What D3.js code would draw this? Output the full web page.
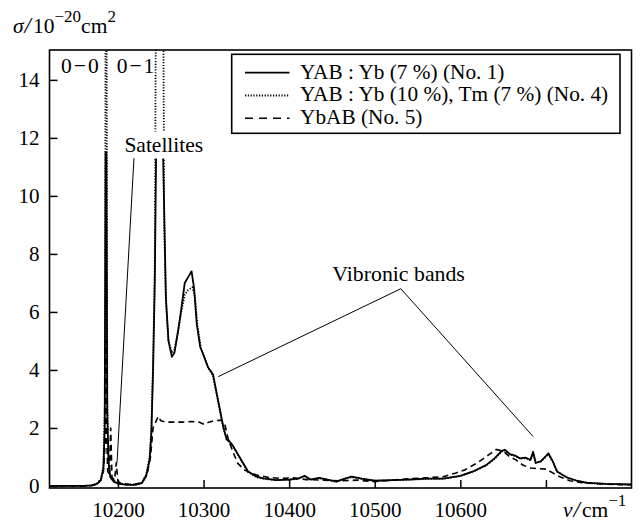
<!DOCTYPE html>
<html><head><meta charset="utf-8">
<script src="https://cdn.jsdelivr.net/npm/d3@7"></script>
<style>body{margin:0;background:#fff}svg{display:block}text{font-family:"Liberation Serif","Times New Roman",serif;fill:#000}</style>
</head><body><svg id="c" width="641" height="523"></svg>
<script>
// ---- data ----
const seriesNames = ["YAB : Yb (7 %) (No. 1)", "YAB : Yb (10 %), Tm (7 %) (No. 4)", "YbAB (No. 5)"];
const xTicks = [10200, 10300, 10400, 10500, 10600, 10700];
const xTickLabels = ["10200", "10300", "10400", "10500", "10600", ""];
const yTicks = [0, 2, 4, 6, 8, 10, 12, 14];

const no1X = [10120,10160,10170,10176,10180,10183,10184.5,10185.5,10186.5,10187.5,10189,10191,10195,10200,10210,10220,10228,10233,10237,10239,10241,10243,10244.8,10252.3,10254,10256,10259,10263,10266,10270,10274,10278,10282,10286,10289,10292,10296,10300,10305,10311,10317,10323,10327,10330,10334,10342,10352,10362,10370,10385,10400,10410,10418,10425,10435,10445,10455,10465,10473,10485,10500,10520,10540,10560,10580,10600,10615,10630,10640,10648,10652,10658,10664,10670,10676,10682,10685,10688,10694,10703,10708,10713,10724,10736,10748,10770,10800];
const no1Y = [0,0,0.02,0.08,0.2,0.6,2.0,11.5,11.5,2.5,0.8,0.3,0.15,0.08,0.04,0.04,0.1,0.35,0.9,1.8,4.0,7.0,12.0,12.0,9.5,6.5,5.0,4.45,4.6,5.3,6.1,7.0,7.2,7.4,6.8,5.6,4.8,4.5,4.1,3.85,2.95,2.05,1.6,1.55,1.4,1.0,0.5,0.32,0.26,0.2,0.22,0.25,0.35,0.22,0.28,0.22,0.15,0.25,0.32,0.25,0.18,0.2,0.22,0.25,0.25,0.35,0.5,0.72,0.95,1.2,1.25,1.1,1.05,0.95,0.98,0.9,1.18,0.8,0.85,1.12,0.85,0.5,0.3,0.18,0.11,0.07,0.05];

const no4X = [10120,10160,10170,10176,10180,10183,10184.8,10185.7,10186.5,10187.5,10189,10191,10195,10200,10210,10220,10228,10233,10237,10239,10241,10243,10244.8,10252.5,10254,10256,10259,10263,10266,10270,10274,10278,10282,10287,10290,10293,10297,10301,10306,10311,10317,10323,10327,10330,10335,10342,10352,10362,10370,10385,10400,10410,10418,10425,10435,10445,10455,10465,10473,10485,10500,10520,10540,10560,10580,10600,10615,10630,10640,10648,10652,10658,10664,10670,10676,10682,10685,10688,10694,10703,10708,10713,10724,10736,10748,10770,10800];
const no4Y = [0,0,0.02,0.1,0.25,0.7,3,20,20,3,0.9,0.35,0.2,0.1,0.05,0.05,0.12,0.4,1.0,2.0,4.2,7.5,20,20,9.0,6.4,5.0,4.6,4.7,5.3,6.0,6.6,6.75,6.85,6.5,5.5,4.75,4.45,4.05,3.8,2.9,2.0,1.6,1.5,1.35,0.98,0.48,0.3,0.25,0.2,0.22,0.24,0.33,0.22,0.27,0.21,0.15,0.24,0.3,0.24,0.18,0.2,0.22,0.24,0.25,0.34,0.5,0.7,0.93,1.18,1.22,1.08,1.03,0.94,0.96,0.88,1.15,0.79,0.84,1.1,0.84,0.5,0.3,0.18,0.11,0.07,0.05];

const no5X = [10120,10165,10175,10180,10183,10185,10186,10187,10188,10190,10191.5,10193,10196,10198,10200,10205,10215,10228,10234,10238,10241,10244,10247,10250,10256,10265,10275,10285,10295,10301,10306,10313,10321,10325,10329,10334,10340,10348,10355,10362,10375,10390,10405,10420,10440,10460,10480,10500,10520,10540,10560,10580,10595,10605,10620,10633,10642,10650,10658,10665,10673,10682,10690,10700,10708,10716,10728,10740,10770,10800];
const no5Y = [0,0,0.05,0.2,0.5,1.5,5.0,1.5,0.5,0.4,2.0,0.3,0.2,0.8,0.15,0.08,0.05,0.1,0.4,1.0,2.0,2.2,2.4,2.25,2.2,2.2,2.2,2.22,2.2,2.12,2.2,2.25,2.27,2.1,1.6,1.2,0.78,0.55,0.45,0.38,0.3,0.26,0.28,0.22,0.2,0.18,0.2,0.15,0.2,0.25,0.28,0.32,0.45,0.55,0.8,1.07,1.26,1.2,1.0,0.9,0.72,0.62,0.6,0.58,0.45,0.32,0.18,0.12,0.06,0.04];

// ---- layout ----
const svg = d3.select("#c");
const L = 49.5, R = 631.5, T = 50, B = 488;
const x = d3.scaleLinear().domain([10120, 10800]).range([L, R]);
const y = d3.scaleLinear().domain([-0.07, 15.03]).range([B, T]);
const FS = 21.5, TFS = 21, SUP = 17;
const FONT = "'Liberation Serif', 'Times New Roman', serif";

svg.append("clipPath").attr("id", "clip").append("rect")
  .attr("x", L).attr("y", T).attr("width", R - L).attr("height", B - T);

const line = d3.line().x(d => x(d[0])).y(d => y(d[1]));
const plot = svg.append("g").attr("clip-path", "url(#clip)");
const styles = [
  {dash: null, w: 1.8},
  {dash: "1.2,1.6", w: 1.8},
  {dash: "6,4", w: 1.6}
];
const data = [d3.zip(no1X, no1Y), d3.zip(no4X, no4Y), d3.zip(no5X, no5Y)];
[2, 0, 1].forEach(i => {
  plot.append("path").datum(data[i]).attr("d", line)
    .attr("fill", "none").attr("stroke", "#000")
    .attr("stroke-width", styles[i].w)
    .attr("stroke-dasharray", styles[i].dash)
    .attr("stroke-linejoin", "round");
});

// axes
const yAxis = d3.axisLeft(y).tickValues(yTicks).tickSize(-8).tickPadding(10);
const gy = svg.append("g").attr("transform", `translate(${L},0)`).call(yAxis);
const xAxis = d3.axisBottom(x).tickValues(xTicks).tickSize(-8).tickPadding(14)
  .tickFormat((d, i) => xTickLabels[i]);
const gx = svg.append("g").attr("transform", `translate(0,${B})`).call(xAxis);
[gx, gy].forEach(g => {
  g.attr("font-family", null).attr("font-size", null);
  g.select(".domain").remove();
  g.selectAll(".tick line").attr("stroke", "#000").attr("stroke-width", 1.5);
  g.selectAll(".tick text").style("font-family", FONT).style("font-size", TFS + "px").attr("fill", "#000");
});

// frame
svg.append("rect").attr("x", L).attr("y", T).attr("width", R - L).attr("height", B - T)
  .attr("fill", "none").attr("stroke", "#000").attr("stroke-width", 1.6);

// annotations: satellites
const satBg = svg.append("rect").attr("fill", "#fff");
const satText = svg.append("text").attr("x", x(10207.5)).attr("y", y(11.53))
  .style("font-size", FS + "px").text("Satellites");
const bb = satText.node().getBBox();
satBg.attr("x", bb.x - 1).attr("y", bb.y - 1).attr("width", bb.width + 2).attr("height", bb.height + 3);
svg.append("line").attr("x1", x(10218.7)).attr("y1", y(11.3)).attr("x2", x(10198.9)).attr("y2", y(0.8))
  .attr("stroke", "#000").attr("stroke-width", 1);

// vibronic bands
svg.append("text").attr("x", x(10450.5)).attr("y", y(7.05)).style("font-size", "21.8px").text("Vibronic bands");
const apex = [10530.5, 6.8];
[[10317.2, 3.77], [10685.2, 1.7]].forEach(e => {
  svg.append("line").attr("x1", x(apex[0])).attr("y1", y(apex[1])).attr("x2", x(e[0])).attr("y2", y(e[1]))
    .attr("stroke", "#000").attr("stroke-width", 1);
});

// 0-0, 0-1 labels
svg.append("text").attr("x", x(10133.5)).attr("y", y(14.5)).attr("dy", "0.35em").style("font-size", FS + "px")
  .style("letter-spacing", "2px").text("0\u22120");
svg.append("text").attr("x", x(10198.5)).attr("y", y(14.5)).attr("dy", "0.35em").style("font-size", FS + "px")
  .style("letter-spacing", "2px").text("0\u22121");

// legend
const lg = svg.append("g");
lg.append("rect").attr("x", 231.7).attr("y", 54.3).attr("width", 388.3).attr("height", 79)
  .attr("fill", "#fff").attr("stroke", "#000").attr("stroke-width", 1.6);
seriesNames.forEach((name, i) => {
  const yy = 72.7 + i * 22.8;
  lg.append("line").attr("x1", 245).attr("x2", 289.5).attr("y1", yy).attr("y2", yy)
    .attr("stroke", "#000").attr("stroke-width", styles[i].w)
    .attr("stroke-dasharray", i === 2 ? "8,6" : styles[i].dash);
  lg.append("text").attr("x", 300).attr("y", yy + 5.8).style("font-size", "21.3px").text(name);
});

// axis titles
const yt = svg.append("text").attr("x", 13).attr("y", 33.3).style("font-size", FS + "px");
yt.append("tspan").style("font-style", "italic").text("σ");
yt.append("tspan").attr("dx", 1).style("font-style", "italic").style("font-size", "23px").text("/");
yt.append("tspan").attr("dx", 2).text("10");
yt.append("tspan").attr("dy", -11).style("font-size", SUP + "px").text("\u221220");
yt.append("tspan").attr("dy", 11).text("cm");
yt.append("tspan").attr("dy", -11).style("font-size", SUP + "px").text("2");

const xt = svg.append("text").attr("x", 563).attr("y", 516.7).style("font-size", FS + "px");
xt.append("tspan").style("font-style", "italic").text("ν");
xt.append("tspan").attr("dx", 1).style("font-style", "italic").style("font-size", "23px").text("/");
xt.append("tspan").attr("dx", 2).text("cm");
xt.append("tspan").attr("dy", -11).style("font-size", SUP + "px").text("\u22121");
</script></body></html>
